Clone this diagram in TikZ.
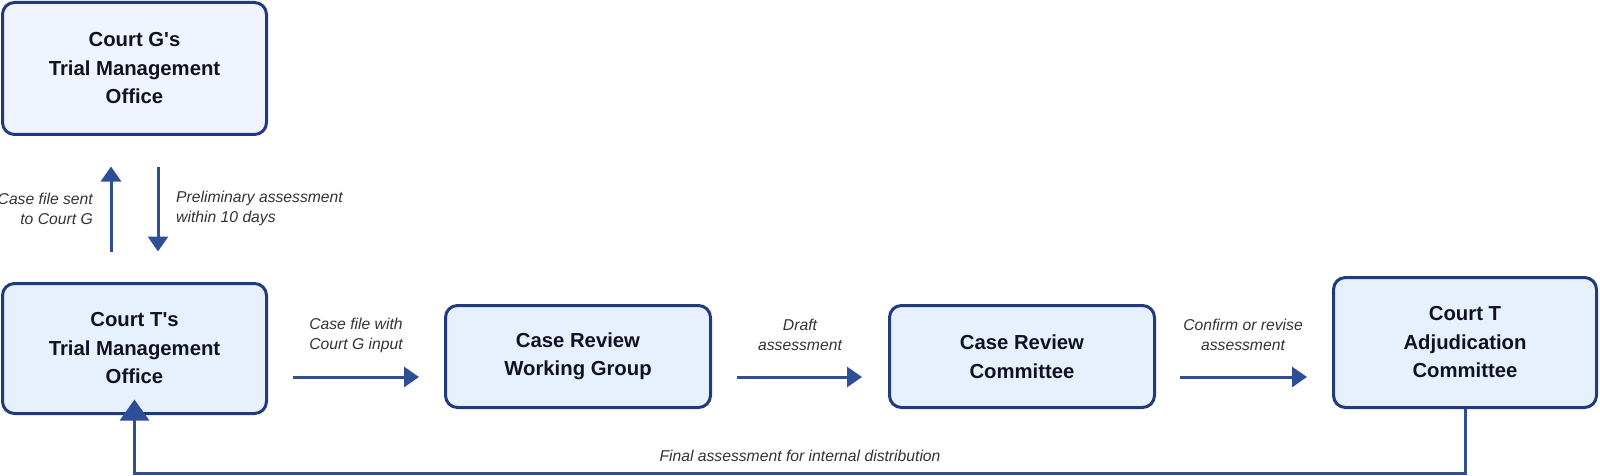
\documentclass[tikz,border=0pt]{standalone}
\usepackage{fontspec}
\setmainfont{Liberation Sans}[Ligatures=TeXOff]
\usetikzlibrary{arrows.meta}
\definecolor{boxfill}{HTML}{E7F0FD}
\definecolor{boxfillG}{HTML}{EFF4FE}
\definecolor{boxdraw}{HTML}{1F3A7D}
\definecolor{arrcol}{HTML}{2E4F96}
\definecolor{lbl}{HTML}{333333}
\definecolor{boxtext}{HTML}{111122}
\begin{document}
\begin{tikzpicture}[x=1pt,y=-1pt,
 box/.style={draw=boxdraw, line width=3pt, fill=boxfill, rounded corners=12pt, align=center,
   font=\fontsize{20.3}{28.5}\selectfont\bfseries, text=boxtext, inner sep=0pt},
 arr/.style={draw=arrcol, line width=3pt, -{Triangle[length=15pt,width=20pt]}},
 bigarr/.style={draw=arrcol, line width=3pt, -{Triangle[length=21pt,width=29pt]}},
 lab/.style={font=\fontsize{15.7}{20}\selectfont\itshape, text=lbl, inner sep=0pt}]
\useasboundingbox (0,0) rectangle (1600,476);
\node[box, fill=boxfillG, minimum width=264pt, minimum height=132pt] (G) at (134.5,68.5) {Court G's\\Trial Management\\Office};
\node[box, minimum width=264pt, minimum height=130pt] (T) at (134.5,348.5) {Court T's\\Trial Management\\Office};
\node[box, minimum width=265pt, minimum height=102pt] (W) at (578,356.5) {Case Review\\Working Group};
\node[box, minimum width=265pt, minimum height=102pt] (C) at (1022,356.5) {Case Review\\Committee};
\node[box, minimum width=263pt, minimum height=130pt] (A) at (1465,342.5) {Court T\\Adjudication\\Committee};
% vertical arrows
\draw[arr, shorten <=30.5pt, shorten >=30.5pt] ([xshift=-23.5pt]T.north) -- ([xshift=-23.5pt]G.south);
\draw[arr, shorten <=30.5pt, shorten >=30.5pt] ([xshift=23.5pt]G.south) -- ([xshift=23.5pt]T.north);
\node[lab, anchor=east, align=right] (l1) at (93,208.5) {Case file sent\\to Court G};
\node[lab, anchor=west, align=left] (l2) at (176,208.5) {Preliminary assessment\\within 10 days};
% horizontal arrows
\coordinate (a1s) at (293,377); \coordinate (a1e) at (419,377);
\coordinate (a2s) at (737,377); \coordinate (a2e) at (862,377);
\coordinate (a3s) at (1180,377); \coordinate (a3e) at (1307,377);
\draw[arr] (a1s) -- (a1e);
\draw[arr] (a2s) -- (a2e);
\draw[arr] (a3s) -- (a3e);
\node[lab, align=center] (l3) at (356,335) {Case file with\\Court G input};
\node[lab, align=center] (l4) at (800,335) {Draft\\assessment};
\node[lab, align=center] (l5) at (1243,335) {Confirm or revise\\assessment};
% feedback
\coordinate (fb) at (1465,473);
\draw[bigarr, shorten >=-15.5pt] (A.south) -- (fb) -| (T.south);
\node[lab] (l6) at (800,455.5) {Final assessment for internal distribution};
\end{tikzpicture}
\end{document}
